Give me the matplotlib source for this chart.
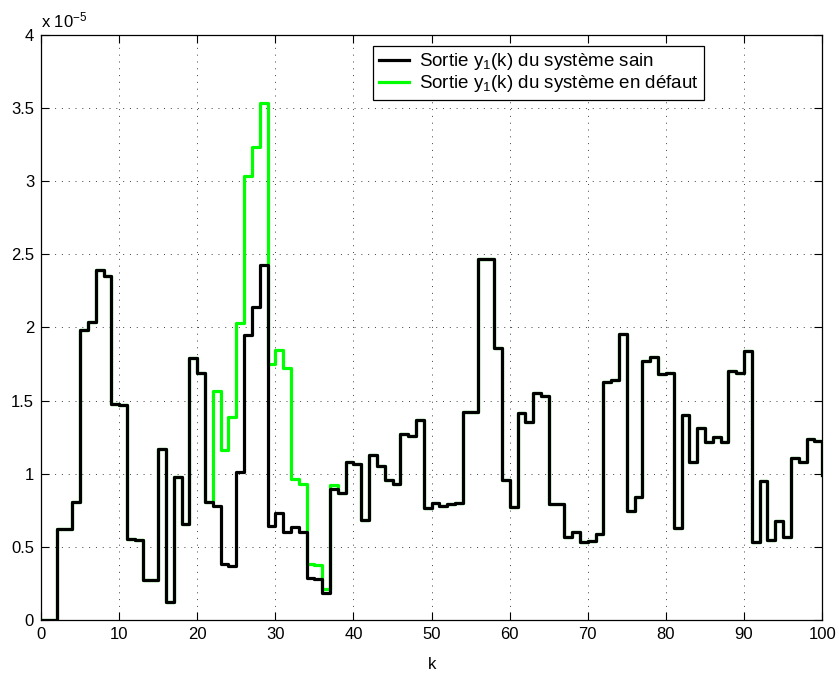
import numpy as np
import matplotlib
matplotlib.use("Agg")
import matplotlib.pyplot as plt
from matplotlib.ticker import FuncFormatter

plt.rcParams['font.family'] = ['Liberation Sans', 'DejaVu Sans']
plt.rcParams['mathtext.default'] = 'regular'

# discrete time index
k = np.arange(0, 101)

# output y1(k) of the healthy system (units of 1e-5)
y_sain = [0, 0, 0.62, 0.62, 0.81, 1.98, 2.04, 2.39, 2.35, 1.48,
          1.47, 0.555, 0.55, 0.275, 0.275, 1.17, 0.12, 0.975, 0.655, 1.79,
          1.69, 0.81, 0.78, 0.385, 0.37, 1.01, 1.95, 2.14, 2.43, 0.645,
          0.73, 0.605, 0.635, 0.60, 0.29, 0.28, 0.185, 0.895, 0.87, 1.08,
          1.07, 0.685, 1.13, 1.05, 0.96, 0.93, 1.27, 1.26, 1.365, 0.765,
          0.80, 0.78, 0.79, 0.80, 1.42, 1.425, 2.47, 2.47, 1.86, 0.96,
          0.775, 1.415, 1.355, 1.55, 1.535, 0.795, 0.79, 0.57, 0.60, 0.535,
          0.54, 0.59, 1.63, 1.64, 1.955, 0.745, 0.84, 1.77, 1.795, 1.685,
          1.69, 0.63, 1.40, 1.08, 1.31, 1.215, 1.25, 1.22, 1.70, 1.69,
          1.84, 0.53, 0.95, 0.55, 0.68, 0.565, 1.105, 1.08, 1.235, 1.225,
          0.99]

# output of the faulty system: differs from the healthy one for k = 22..37
defaut_k = list(range(22, 38))
defaut_val = [1.565, 1.165, 1.39, 2.03, 3.035, 3.235, 3.535, 1.75,
              1.845, 1.72, 0.965, 0.93, 0.385, 0.375, 0.215, 0.92]

y_defaut = list(y_sain)
for i, v in zip(defaut_k, defaut_val):
    y_defaut[i] = v

fig = plt.figure(figsize=(8.39, 6.77), dpi=100)
ax = fig.add_axes([0.0489, 0.0842, 0.9310, 0.8641])

# faulty output first so the healthy one is drawn on top
l_def, = ax.step(k, y_defaut, where='post', color='#00ff00', lw=2.3, zorder=2)
l_sain, = ax.step(k, y_sain, where='post', color='black', lw=2.3, zorder=3)

ax.set_xlim(0, 100)
ax.set_ylim(0, 4)
ax.set_xticks(np.arange(0, 101, 10))
ax.set_yticks(np.arange(0, 4.01, 0.5))
ax.yaxis.set_major_formatter(FuncFormatter(lambda v, p: '%g' % v))

ax.grid(True, color='0.25', linestyle=(0, (1, 6)), lw=0.7)
ax.tick_params(direction='in', top=True, right=True, length=5.5,
               width=0.8, labelsize=12, pad=5)
for s in ax.spines.values():
    s.set_linewidth(0.9)

ax.text(0.0, 1.008, 'x 10$^{-5}$', transform=ax.transAxes,
        ha='left', va='bottom', fontsize=12)
ax.set_xlabel('k', fontsize=12, labelpad=11)

leg = ax.legend([l_sain, l_def],
                ['Sortie y$_1$(k) du système sain',
                 'Sortie y$_1$(k) du système en défaut'],
                loc='upper left', bbox_to_anchor=(0.425, 0.982),
                borderaxespad=0, fancybox=False, fontsize=13.5,
                handlelength=1.6, handletextpad=0.55, labelspacing=0.05,
                borderpad=0.3, framealpha=1)
leg.get_frame().set_edgecolor('black')
leg.get_frame().set_linewidth(0.9)

fig.savefig('out.png', dpi=100)
